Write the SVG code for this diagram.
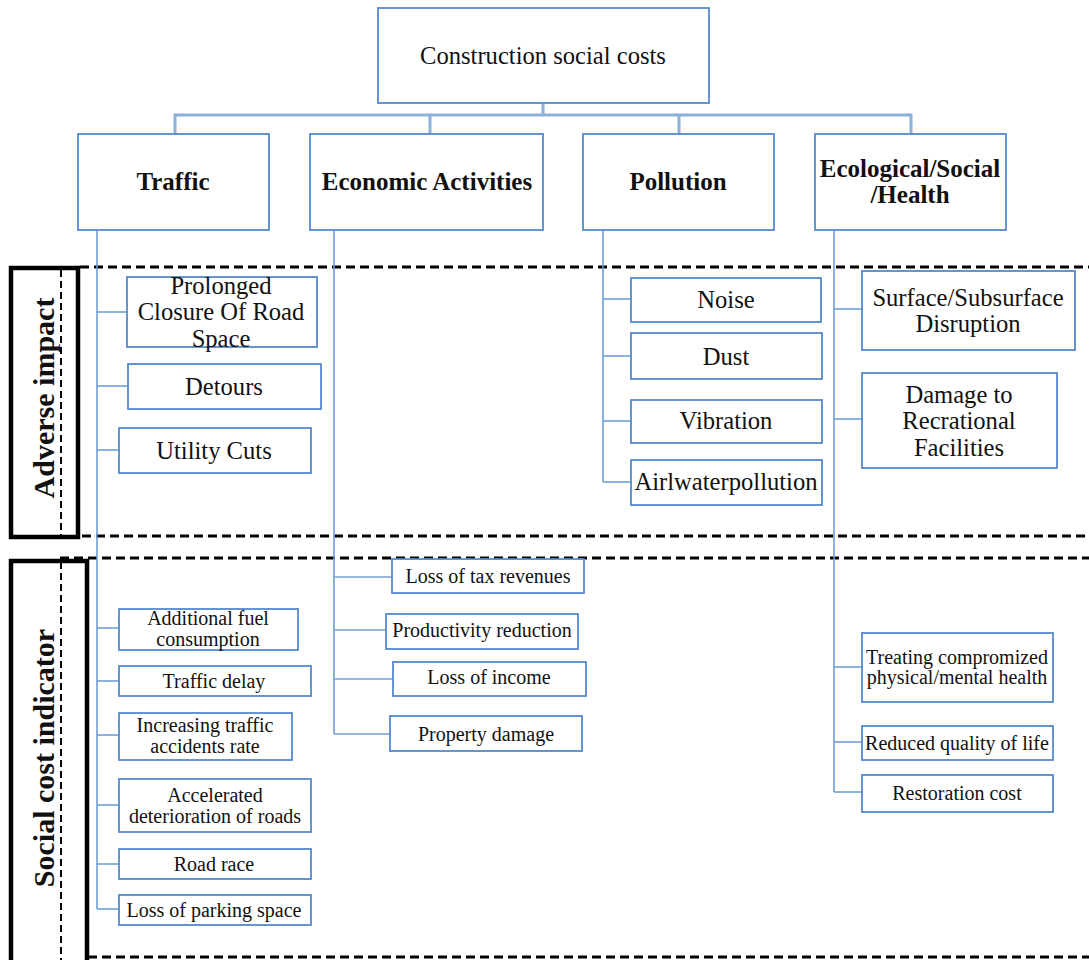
<svg xmlns="http://www.w3.org/2000/svg" width="1089" height="960" viewBox="0 0 1089 960">
<style>
.box{fill:#fff;stroke:#5689c9;stroke-width:1.8}
.t{font-family:"Liberation Serif","Times New Roman",serif;fill:#111;text-anchor:middle;dominant-baseline:central}
.root{font-size:24.6px}
.l1{font-size:25px;font-weight:bold}
.ad{font-size:24.6px}
.sc{font-size:20px}
.side{font-size:30px;font-weight:bold}
.con{fill:none;stroke:#6f9fd6;stroke-width:1.6}
.top{fill:none;stroke:#8db1da;stroke-width:3}
.dash{fill:none;stroke:#000;stroke-width:3;stroke-dasharray:9 5}
.vdash{fill:none;stroke:#000;stroke-width:2;stroke-dasharray:7 4}
.frame{fill:none;stroke:#000;stroke-width:4.5}
</style>
<rect width="1089" height="960" fill="#fff"/>

<g id="bands">
<line class="dash" x1="80" y1="267" x2="1089" y2="267"/>
<line class="dash" x1="82" y1="536" x2="1089" y2="536"/>
<line class="dash" x1="60" y1="558" x2="1089" y2="558"/>
<line class="dash" x1="88" y1="957" x2="1089" y2="957"/>
</g>

<g id="connectors">
<polyline class="top" points="543,103 543,115"/>
<polyline class="top" points="175,134 175,115 911,115 911,134"/>
<polyline class="top" points="430,115 430,134"/>
<polyline class="top" points="679,115 679,134"/>
<line class="con" x1="97" y1="230" x2="97" y2="909"/>
<line class="con" x1="97" y1="312" x2="127" y2="312"/>
<line class="con" x1="97" y1="386" x2="128" y2="386"/>
<line class="con" x1="97" y1="450" x2="119" y2="450"/>
<line class="con" x1="97" y1="628" x2="119" y2="628"/>
<line class="con" x1="97" y1="681" x2="119" y2="681"/>
<line class="con" x1="97" y1="735" x2="119" y2="735"/>
<line class="con" x1="97" y1="805" x2="119" y2="805"/>
<line class="con" x1="97" y1="864" x2="119" y2="864"/>
<line class="con" x1="97" y1="909" x2="119" y2="909"/>
<line class="con" x1="334" y1="230" x2="334" y2="734"/>
<line class="con" x1="334" y1="577" x2="392" y2="577"/>
<line class="con" x1="334" y1="630" x2="386" y2="630"/>
<line class="con" x1="334" y1="679" x2="393" y2="679"/>
<line class="con" x1="334" y1="734" x2="390" y2="734"/>
<line class="con" x1="603" y1="230" x2="603" y2="482"/>
<line class="con" x1="603" y1="299" x2="631" y2="299"/>
<line class="con" x1="603" y1="356" x2="631" y2="356"/>
<line class="con" x1="603" y1="421" x2="631" y2="421"/>
<line class="con" x1="603" y1="482" x2="631" y2="482"/>
<line class="con" x1="834" y1="230" x2="834" y2="792"/>
<line class="con" x1="834" y1="309" x2="862" y2="309"/>
<line class="con" x1="834" y1="419" x2="862" y2="419"/>
<line class="con" x1="834" y1="667" x2="862" y2="667"/>
<line class="con" x1="834" y1="742" x2="862" y2="742"/>
<line class="con" x1="834" y1="792" x2="862" y2="792"/>
</g>

<g id="side-adverse">
<rect class="frame" x="11" y="268" width="67" height="269"/>
<line class="vdash" x1="61" y1="270" x2="61" y2="535"/>
<text class="t side" transform="rotate(-90 43 398)" x="43" y="398">Adverse impact</text>
</g>
<g id="side-social">
<rect class="frame" x="11" y="561" width="76" height="402"/>
<line class="vdash" x1="61" y1="562" x2="61" y2="960"/>
<text class="t side" transform="rotate(-90 43 758)" x="43" y="758">Social cost indicator</text>
</g>

<g id="root"><rect class="box" x="378" y="8" width="331" height="95"/><text class="t root" x="543" y="55">Construction social costs</text></g>

<g id="traffic"><rect class="box" x="78" y="134" width="191" height="96"/><text class="t l1" x="173" y="181">Traffic</text></g>
<g id="economic"><rect class="box" x="310" y="134" width="233" height="96"/><text class="t l1" x="427" y="181">Economic Activities</text></g>
<g id="pollution"><rect class="box" x="583" y="134" width="191" height="96"/><text class="t l1" x="678" y="181">Pollution</text></g>
<g id="ecological"><rect class="box" x="815" y="134" width="191" height="96"/><text class="t l1" x="910" y="168">Ecological/Social</text><text class="t l1" x="910" y="194">/Health</text></g>

<g id="prolonged"><rect class="box" x="127" y="277" width="190" height="70"/><text class="t ad" x="221" y="285">Prolonged</text><text class="t ad" x="221" y="311">Closure Of Road</text><text class="t ad" x="221" y="338">Space</text></g>
<g id="detours"><rect class="box" x="128" y="364" width="193" height="45"/><text class="t ad" x="224" y="386">Detours</text></g>
<g id="utility"><rect class="box" x="119" y="428" width="192" height="45"/><text class="t ad" x="214" y="450">Utility Cuts</text></g>

<g id="noise"><rect class="box" x="631" y="278" width="190" height="44"/><text class="t ad" x="726" y="299">Noise</text></g>
<g id="dust"><rect class="box" x="631" y="333" width="191" height="46"/><text class="t ad" x="726" y="356">Dust</text></g>
<g id="vibration"><rect class="box" x="631" y="400" width="191" height="43"/><text class="t ad" x="726" y="420">Vibration</text></g>
<g id="airwater"><rect class="box" x="631" y="460" width="191" height="45"/><text class="t ad" x="726" y="481">Airlwaterpollution</text></g>

<g id="surface"><rect class="box" x="862" y="271" width="213" height="79"/><text class="t ad" x="968" y="297">Surface/Subsurface</text><text class="t ad" x="968" y="323">Disruption</text></g>
<g id="damage"><rect class="box" x="862" y="373" width="195" height="95"/><text class="t ad" x="959" y="394">Damage to</text><text class="t ad" x="959" y="420">Recrational</text><text class="t ad" x="959" y="447">Facilities</text></g>

<g id="fuel"><rect class="box" x="119" y="609" width="179" height="41"/><text class="t sc" x="208" y="618">Additional fuel</text><text class="t sc" x="208" y="639">consumption</text></g>
<g id="delay"><rect class="box" x="119" y="666" width="192" height="30"/><text class="t sc" x="214" y="681">Traffic delay</text></g>
<g id="accidents"><rect class="box" x="119" y="713" width="173" height="47"/><text class="t sc" x="205" y="725">Increasing traffic</text><text class="t sc" x="205" y="746">accidents rate</text></g>
<g id="deterioration"><rect class="box" x="119" y="779" width="192" height="53"/><text class="t sc" x="215" y="795">Accelerated</text><text class="t sc" x="215" y="816">deterioration of roads</text></g>
<g id="roadrace"><rect class="box" x="119" y="849" width="192" height="30"/><text class="t sc" x="214" y="864">Road race</text></g>
<g id="parking"><rect class="box" x="119" y="895" width="192" height="30"/><text class="t sc" x="214" y="910">Loss of parking space</text></g>

<g id="tax"><rect class="box" x="392" y="559" width="192" height="34"/><text class="t sc" x="488" y="576">Loss of tax revenues</text></g>
<g id="productivity"><rect class="box" x="386" y="614" width="192" height="35"/><text class="t sc" x="482" y="630">Productivity reduction</text></g>
<g id="income"><rect class="box" x="393" y="662" width="193" height="34"/><text class="t sc" x="489" y="677">Loss of income</text></g>
<g id="property"><rect class="box" x="390" y="716" width="192" height="35"/><text class="t sc" x="486" y="734">Property damage</text></g>

<g id="treating"><rect class="box" x="862" y="633" width="191" height="69"/><text class="t sc" x="957" y="657">Treating compromized</text><text class="t sc" x="957" y="677">physical/mental health</text></g>
<g id="quality"><rect class="box" x="862" y="726" width="191" height="34"/><text class="t sc" x="957" y="743">Reduced quality of life</text></g>
<g id="restoration"><rect class="box" x="862" y="775" width="191" height="37"/><text class="t sc" x="957" y="793">Restoration cost</text></g>
</svg>
